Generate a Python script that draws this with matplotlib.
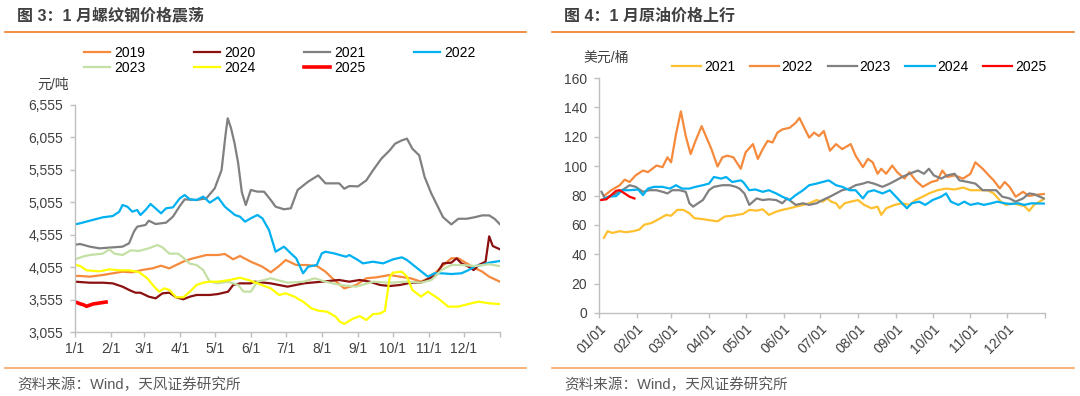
import numpy as np
import matplotlib
matplotlib.use('Agg')
import matplotlib.pyplot as plt
from matplotlib.lines import Line2D
from matplotlib.ticker import FuncFormatter

plt.rcParams['font.family'] = ['Liberation Sans', 'Noto Sans CJK SC']

# day-of-year where each month starts (plus year end)
month_start = [0, 31, 59, 90, 120, 151, 181, 212, 243, 273, 304, 334, 365]

# ---- Fig.3 rebar price, x in months (0 = Jan 1), yuan/ton
rebar_2019_m = [0, 0.14, 0.41, 0.77, 1.05, 1.35, 1.65, 1.95, 2.24, 2.48, 2.71, 2.9, 3.14, 3.38, 3.57, 3.76,
                4.09, 4.28, 4.51, 4.7, 5.0, 5.33, 5.57, 5.81, 6.0, 6.29, 6.57, 6.86, 7.1, 7.29, 7.62, 7.95,
                8.24, 8.53, 8.91, 9.2, 9.49, 9.78, 10.07, 10.36, 10.64, 10.84, 11.08, 11.32, 11.51, 11.7, 12.0]
rebar_2019 = [3920, 3919, 3908, 3934, 3960, 3985, 3975, 4011, 4036, 4077, 4036, 4088, 4150, 4191, 4216, 4242,
              4242, 4258, 4176, 4227, 4139, 4062, 3975, 4073, 4165, 4088, 4088, 4073, 3985, 3883, 3728, 3780,
              3883, 3898, 3934, 3908, 3883, 3831, 3908, 4062, 4191, 4191, 4113, 4036, 3985, 3908, 3830]

rebar_2020_m = [0, 0.41, 0.77, 1.05, 1.35, 1.6, 1.75, 1.9, 2.14, 2.33, 2.52, 2.71, 2.9, 3.1, 3.29, 3.48,
                3.86, 4.09, 4.37, 4.51, 4.7, 5.0, 5.1, 5.57, 6.05, 6.5, 7.0, 7.47, 7.76, 8.05, 8.34, 8.63,
                8.91, 9.2, 9.49, 9.78, 10.02, 10.21, 10.4, 10.64, 10.79, 10.93, 11.13, 11.27, 11.41, 11.6,
                11.7, 11.8, 12.0]
rebar_2020 = [3831, 3815, 3815, 3805, 3754, 3692, 3661, 3661, 3600, 3574, 3651, 3661, 3590, 3559, 3600, 3626,
              3626, 3640, 3677, 3780, 3805, 3805, 3831, 3805, 3754, 3805, 3831, 3857, 3831, 3857, 3831, 3780,
              3764, 3780, 3815, 3815, 3883, 3934, 4113, 4124, 4191, 4113, 4062, 4010, 4088, 4139,
              4530, 4380, 4330]

rebar_2021_m = [0, 0.14, 0.41, 0.68, 1.05, 1.35, 1.55, 1.7, 1.8, 2.05, 2.14, 2.33, 2.62, 2.81, 3.0, 3.14,
                3.48, 3.76, 4.0, 4.19, 4.3, 4.36, 4.45, 4.55, 4.65, 4.75, 4.86, 5.0, 5.19, 5.38, 5.57, 5.71,
                5.95, 6.14, 6.33, 6.62, 6.9, 7.1, 7.48, 7.62, 7.76, 8.0, 8.24, 8.43, 8.67, 8.91, 9.06, 9.25,
                9.39, 9.54, 9.73, 9.88, 10.07, 10.26, 10.4, 10.64, 10.84, 11.08, 11.32, 11.51, 11.7, 11.85, 12.0]
rebar_2021 = [4400, 4412, 4371, 4345, 4360, 4371, 4422, 4602, 4679, 4705, 4771, 4720, 4741, 4833, 4998, 5100,
              5090, 5116, 5270, 5553, 6100, 6350, 6200, 5964, 5656, 5212, 5013, 5245, 5219, 5219, 5090, 4987,
              4947, 4962, 5245, 5373, 5470, 5347, 5347, 5264, 5305, 5300, 5393, 5547, 5727, 5856, 5958, 6010,
              6036, 5881, 5778, 5444, 5187, 4981, 4827, 4714, 4801, 4801, 4827, 4853, 4853, 4800, 4715]

rebar_2022_m = [0, 0.14, 0.41, 0.77, 1.05, 1.25, 1.35, 1.5, 1.65, 1.8, 1.9, 2.05, 2.19, 2.38, 2.48, 2.62,
                2.81, 3.0, 3.14, 3.29, 3.48, 3.67, 3.86, 4.09, 4.28, 4.56, 4.7, 4.84, 5.0, 5.19, 5.33, 5.52,
                5.71, 5.95, 6.14, 6.29, 6.48, 6.62, 6.86, 7.0, 7.1, 7.33, 7.67, 7.76, 8.0, 8.14, 8.43, 8.72,
                9.01, 9.25, 9.39, 9.68, 9.97, 10.16, 10.36, 10.64, 10.93, 11.13, 11.32, 11.51, 11.7, 12.0]
rebar_2022 = [4715, 4731, 4771, 4823, 4843, 4910, 5013, 4987, 4910, 4936, 4859, 4936, 5029, 4936, 4885, 4962,
              4977, 5116, 5167, 5100, 5090, 5142, 5049, 5132, 4987, 4859, 4833, 4756, 4808, 4859, 4808, 4628,
              4293, 4371, 4268, 4191, 3960, 4062, 4088, 4268, 4293, 4268, 4216, 4242, 4165, 4113, 4139, 4113,
              4176, 4206, 4165, 4036, 3908, 3960, 3960, 3949, 3960, 4010, 4073, 4088, 4124, 4150]

rebar_2023_m = [0, 0.23, 0.41, 0.77, 0.95, 1.1, 1.35, 1.6, 1.85, 2.14, 2.38, 2.52, 2.71, 2.95, 3.1, 3.29,
                3.48, 3.67, 3.8, 3.86, 4.09, 4.37, 4.65, 4.8, 5.0, 5.19, 5.57, 6.05, 6.5, 6.8, 7.1, 7.5,
                7.95, 8.43, 8.91, 9.39, 9.78, 10.07, 10.36, 10.64, 10.93, 11.32, 11.7, 12.0]
rebar_2023 = [4176, 4220, 4242, 4263, 4329, 4263, 4242, 4314, 4304, 4345, 4396, 4360, 4263, 4263, 4201, 4108,
              4088, 4010, 3883, 3831, 3805, 3831, 3780, 3677, 3677, 3831, 3883, 3815, 3831, 3883, 3831, 3780,
              3754, 3831, 3815, 3831, 3815, 3857, 4010, 4088, 4088, 4073, 4100, 4070]

rebar_2024_m = [0, 0.14, 0.32, 0.68, 0.95, 1.25, 1.55, 1.85, 2.1, 2.29, 2.43, 2.57, 2.71, 2.9, 3.1, 3.29,
                3.48, 3.67, 3.86, 4.09, 4.42, 4.7, 4.93, 5.19, 5.57, 5.81, 6.0, 6.24, 6.48, 6.71, 6.9, 7.14,
                7.38, 7.5, 7.62, 7.86, 8.05, 8.24, 8.43, 8.63, 8.77, 8.91, 9.0, 9.25, 9.39, 9.54, 9.78, 9.97,
                10.26, 10.55, 10.84, 11.13, 11.41, 11.7, 12.0]
rebar_2024 = [4090, 4073, 4006, 3990, 4021, 4006, 4006, 3980, 3883, 3754, 3677, 3728, 3703, 3590, 3590, 3677,
              3780, 3815, 3831, 3831, 3857, 3892, 3857, 3805, 3728, 3626, 3651, 3600, 3523, 3420, 3384, 3369,
              3292, 3214, 3180, 3260, 3300, 3240, 3330, 3340, 3380, 3900, 3970, 3985, 3908, 3703, 3600, 3677,
              3574, 3446, 3446, 3487, 3523, 3497, 3485]

rebar_2025_m = [0, 0.14, 0.23, 0.32, 0.5, 0.68, 0.86]
rebar_2025 = [3520, 3490, 3476, 3451, 3487, 3502, 3517]

# ---- Fig.4 crude oil, x in day of year, USD/bbl
oil_2021_d = [4, 7, 11, 17, 22, 28, 33, 37, 43, 48, 55, 59, 64, 69, 74, 78, 85, 92, 97, 103, 109, 118, 123,
              129, 134, 139, 145, 150, 156, 161, 167, 172, 178, 183, 187, 190, 194, 197, 201, 206, 212, 217,
              223, 228, 231, 235, 242, 248, 254, 259, 265, 270, 277, 284, 291, 298, 304, 311, 318, 323, 329,
              333, 339, 344, 348, 352, 356, 364]
oil_2021 = [51.2, 55.7, 54.5, 55.7, 55.0, 55.7, 56.8, 60.1, 61.3, 63.5, 66.8, 66.2, 70.2, 70.2, 67.9, 64.6,
            63.9, 63.0, 62.4, 65.7, 66.2, 67.5, 70.2, 69.7, 70.6, 66.8, 69.0, 70.2, 71.3, 72.4, 73.6, 74.7,
            76.9, 75.8, 78.0, 75.8, 74.7, 71.3, 74.7, 75.8, 76.9, 73.6, 71.3, 72.4, 66.8, 71.3, 73.6, 74.7,
            73.6, 76.9, 79.2, 81.4, 83.6, 84.7, 84.1, 85.4, 83.6, 83.6, 83.6, 81.4, 75.8, 73.6, 74.7, 73.6,
            72.9, 69.5, 73.6, 77.5]

oil_2022_d = [4, 10, 17, 21, 25, 30, 36, 40, 47, 52, 56, 59, 63, 67, 71, 75, 79, 84, 88, 92, 97, 101, 105,
              110, 116, 120, 126, 130, 134, 138, 142, 146, 150, 156, 161, 164, 168, 172, 176, 180, 184, 189,
              194, 199, 206, 210, 216, 220, 224, 228, 231, 235, 240, 244, 250, 254, 259, 265, 272, 277, 281,
              285, 291, 298, 304, 308, 314, 319, 323, 328, 332, 336, 341, 347, 352, 356, 364]
oil_2022 = [79.6, 83.6, 87.0, 90.8, 89.2, 93.7, 97.0, 95.9, 100.4, 99.3, 106.0, 102.6, 121.7, 137.3, 120.5,
            108.2, 117.2, 127.2, 119.4, 111.6, 99.7, 106.0, 107.1, 106.0, 98.2, 109.4, 115.0, 104.9, 111.6,
            117.2, 116.1, 122.8, 125.0, 126.1, 129.5, 132.8, 126.1, 119.4, 122.8, 120.5, 123.9, 110.5, 115.0,
            111.6, 115.0, 107.1, 99.3, 104.9, 102.6, 94.8, 98.2, 94.8, 100.4, 95.9, 91.5, 95.9, 90.3, 85.9,
            89.2, 90.3, 97.0, 92.6, 93.7, 91.5, 94.8, 102.6, 98.2, 93.7, 90.3, 84.8, 89.2, 85.9, 79.2, 82.5,
            79.6, 80.3, 81.0]

oil_2023_d = [2, 5, 9, 14, 21, 25, 30, 36, 41, 47, 52, 56, 60, 66, 71, 74, 77, 81, 85, 90, 94, 101, 107, 112,
              115, 119, 123, 129, 134, 139, 145, 150, 154, 161, 167, 172, 178, 183, 189, 194, 199, 205, 210,
              216, 220, 225, 232, 238, 243, 248, 254, 261, 266, 270, 274, 280, 285, 291, 295, 302, 308, 314,
              319, 325, 330, 336, 341, 347, 352, 356, 364]
oil_2023 = [82.5, 78.0, 79.6, 81.4, 84.7, 87.0, 85.9, 82.5, 83.6, 83.6, 82.5, 81.4, 83.6, 83.6, 82.5, 74.7,
            72.4, 74.7, 76.9, 83.6, 85.9, 87.0, 87.0, 85.9, 84.7, 81.4, 73.6, 78.0, 76.9, 77.4, 76.9, 74.7,
            78.0, 73.6, 74.7, 73.6, 74.7, 76.9, 79.2, 81.4, 83.6, 84.7, 87.0, 88.1, 89.2, 88.1, 85.9, 88.1,
            90.3, 92.6, 94.8, 97.0, 94.8, 98.2, 93.7, 91.5, 93.7, 94.8, 90.3, 89.2, 88.1, 83.6, 83.6, 83.6,
            79.2, 78.0, 75.8, 78.0, 81.4, 80.9, 78.0]

oil_2024_d = [2, 8, 14, 19, 25, 32, 36, 40, 45, 52, 58, 63, 68, 74, 79, 85, 90, 94, 100, 104, 109, 116, 118,
              123, 128, 134, 139, 145, 150, 156, 161, 167, 172, 178, 183, 188, 194, 199, 205, 210, 216, 220,
              225, 232, 238, 243, 248, 252, 256, 262, 267, 273, 280, 284, 288, 294, 299, 304, 310, 315, 321,
              326, 332, 337, 343, 348, 354, 364]
oil_2024 = [77.0, 79.2, 79.6, 83.6, 83.6, 84.1, 80.3, 84.7, 85.9, 85.9, 84.7, 87.0, 84.7, 84.7, 85.9, 87.0,
            88.1, 92.6, 91.5, 92.6, 89.2, 90.3, 89.2, 83.6, 84.1, 82.5, 83.6, 81.4, 79.2, 76.9, 80.3, 83.6,
            87.0, 88.1, 89.2, 90.3, 87.0, 85.9, 83.6, 83.6, 78.0, 82.5, 83.6, 81.4, 83.6, 79.2, 74.7, 71.3,
            74.7, 75.8, 73.6, 76.9, 79.2, 81.4, 75.8, 73.6, 75.8, 73.6, 74.7, 73.6, 74.7, 75.8, 74.7, 74.2,
            74.7, 73.6, 74.7, 74.5]

oil_2025_d = [1, 6, 10, 14, 17, 21, 25, 29]
oil_2025 = [76.9, 77.4, 80.3, 83.2, 83.6, 81.4, 79.2, 78.0]

rebar_xlabels = ['1/1', '2/1', '3/1', '4/1', '5/1', '6/1', '7/1', '8/1', '9/1', '10/1', '11/1', '12/1']
oil_xlabels = ['01/01', '02/01', '03/01', '04/01', '05/01', '06/01', '07/01', '08/01', '09/01', '10/01',
               '11/01', '12/01']

W, H = 1080, 396
fig = plt.figure(figsize=(W / 100, H / 100), dpi=100)


def fx(x):
    return x / W


def fy(y):
    return 1 - y / H


def to_day(m):
    return np.interp(m, range(13), month_start)


txt = '#404040'
grey = '#BFBFBF'


def style(ax):
    for s in ['top', 'right']:
        ax.spines[s].set_visible(False)
    for s in ['left', 'bottom']:
        ax.spines[s].set_color(grey)
        ax.spines[s].set_linewidth(1)
    ax.tick_params(colors=grey, labelcolor=txt, labelsize=10, length=3.5, width=1)
    ax.set_xlim(0, 365)
    ax.set_xticks(month_start)


# ---------------- left panel
ax1 = fig.add_axes([fx(75), fy(332), (500 - 75) / W, (332 - 105) / H])
style(ax1)
left_series = [('2019', rebar_2019_m, rebar_2019, '#F58A3C', 1.6),
               ('2020', rebar_2020_m, rebar_2020, '#8B1010', 1.6),
               ('2021', rebar_2021_m, rebar_2021, '#808080', 1.6),
               ('2022', rebar_2022_m, rebar_2022, '#00B0F0', 1.6),
               ('2023', rebar_2023_m, rebar_2023, '#C5E0A5', 1.6),
               ('2024', rebar_2024_m, rebar_2024, '#FFFF00', 1.6),
               ('2025', rebar_2025_m, rebar_2025, '#FF0000', 2.6)]
h1 = {}
for name, m, v, c, lw in left_series:
    h1[name], = ax1.plot(to_day(m), v, color=c, lw=lw, label=name)
ax1.set_ylim(3055, 6555)
ax1.set_yticks(np.arange(3055, 6556, 500))
ax1.yaxis.set_major_formatter(FuncFormatter(lambda v, p: f'{v:,.0f}'))
ax1.set_xticklabels(rebar_xlabels + [''])
ax1.tick_params(axis='y', pad=5)
ax1.tick_params(axis='x', pad=4)

# legend is filled column by column, so interleave to get the row layout
order = ['2019', '2023', '2020', '2024', '2021', '2025', '2022']
fig.legend([h1[k] for k in order], order, ncol=4, loc='upper left', bbox_to_anchor=(fx(84), fy(46)),
           frameon=False, fontsize=10, handlelength=1.87, handletextpad=0.3, columnspacing=3.5,
           labelspacing=0.05, borderpad=0, borderaxespad=0)
fig.text(fx(53), fy(85), '元/吨', fontsize=10, color=txt, ha='center', va='center')

# ---------------- right panel
ax2 = fig.add_axes([fx(599), fy(313), (1045 - 599) / W, (313 - 78) / H])
style(ax2)
right_series = [('2021', oil_2021_d, oil_2021, '#FFC030'),
                ('2022', oil_2022_d, oil_2022, '#F58A3C'),
                ('2023', oil_2023_d, oil_2023, '#808080'),
                ('2024', oil_2024_d, oil_2024, '#00B0F0'),
                ('2025', oil_2025_d, oil_2025, '#FF0000')]
h2 = []
for name, d, v, c in right_series:
    h, = ax2.plot(d, v, color=c, lw=1.6, label=name)
    h2.append(h)
ax2.set_ylim(0, 160)
ax2.set_yticks(np.arange(0, 161, 20))
ax2.set_xticklabels(oil_xlabels + [''], rotation=45, ha='right', va='top', rotation_mode='anchor')
ax2.tick_params(axis='y', pad=5)
ax2.tick_params(axis='x', pad=3)
fig.legend(h2, [s[0] for s in right_series], ncol=5, loc='upper left', bbox_to_anchor=(fx(672), fy(60)),
           frameon=False, fontsize=10, handlelength=2.1, handletextpad=0.2, columnspacing=1.05,
           borderpad=0, borderaxespad=0)
fig.text(fx(606), fy(58), '美元/桶', fontsize=10, color=txt, ha='center', va='center')

# ---------------- titles, rules and sources
fig.text(fx(17), fy(16), '图 3：1 月螺纹钢价格震荡', fontsize=11.5, weight='bold', color=txt, va='center')
fig.text(fx(564), fy(16), '图 4：1 月原油价格上行', fontsize=11.5, weight='bold', color=txt, va='center')
for x0, x1 in [(5, 526), (552, 1074)]:
    fig.add_artist(Line2D([fx(x0), fx(x1)], [fy(32), fy(32)], color='#F07C22', lw=1.2))
    fig.add_artist(Line2D([fx(x0), fx(x1)], [fy(368), fy(368)], color='#F5A564', lw=1.2))
fig.text(fx(17), fy(385), '资料来源：Wind，天风证券研究所', fontsize=10.5, color='#595959', va='center')
fig.text(fx(564), fy(385), '资料来源：Wind，天风证券研究所', fontsize=10.5, color='#595959', va='center')

fig.savefig('out.png', dpi=100)
